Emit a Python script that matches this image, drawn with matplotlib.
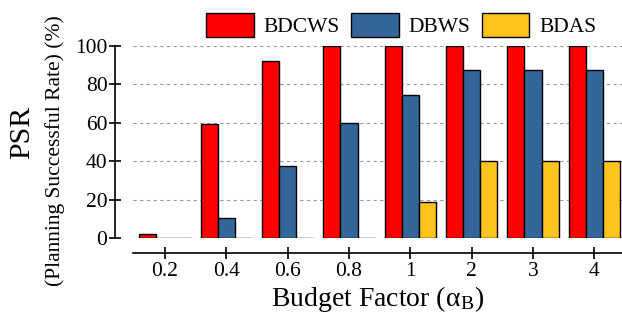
import matplotlib
matplotlib.use("Agg")
import matplotlib.pyplot as plt
import numpy as np

factors = ["0.2", "0.4", "0.6", "0.8", "1", "2", "3", "4"]
bdcws = [2, 59.2, 92.2, 100, 100, 100, 100, 100]
dbws = [0, 10.6, 37.5, 60, 74.5, 87.5, 87.5, 87.5]
bdas = [0, 0, 0, 0, 18.9, 40, 40, 40]

series = (
    ("BDCWS", bdcws, "#ff0000"),
    ("DBWS", dbws, "#346699"),
    ("BDAS", bdas, "#fcc41c"),
)

plt.rcParams["font.family"] = ["Liberation Serif", "DejaVu Serif"]
plt.rcParams["mathtext.fontset"] = "stix"

fig = plt.figure(figsize=(6.22, 3.2), dpi=100)
ax = fig.add_axes([0.214, 0.256, 0.786, 0.6])

x = np.arange(len(factors))
width = 0.28
for i, (label, values, color) in enumerate(series):
    ax.bar(x + (i - 1) * width, values, width, label=label, color=color,
           edgecolor="black", linewidth=1.0, zorder=3)

ax.set_xlim(-0.52, 7.45)
ax.set_ylim(0, 100)
ax.set_yticks(np.arange(0, 101, 20))
ax.set_xticks(x)
ax.set_xticklabels(factors)
ax.yaxis.grid(True, linestyle=(0, (3, 3)), color="#999999", linewidth=0.8, zorder=0)

for side in ("top", "right"):
    ax.spines[side].set_visible(False)
ax.spines["left"].set_position(("outward", 13))
ax.spines["bottom"].set_position(("outward", 11))
ax.spines["left"].set_bounds(0, 100)
ax.tick_params(axis="both", direction="inout", length=9, width=1.2, labelsize=15.5)
ax.tick_params(axis="y", pad=1)
ax.tick_params(axis="x", pad=2)
for side in ("left", "bottom"):
    ax.spines[side].set_linewidth(1.2)

ax.set_xlabel("Budget Factor (α$_\\mathregular{B}$)", fontsize=20, labelpad=2)
fig.text(0.036, 0.5875, "PSR", rotation=90, fontsize=21.5, ha="center", va="center")
fig.text(0.088, 0.53, "(Planning Successful Rate) (%)", rotation=90, fontsize=15.5,
         ha="center", va="center")

fig.legend(loc="upper center", bbox_to_anchor=(0.645, 0.985), ncol=3, frameon=False,
           fontsize=15.5, handlelength=2.2, handleheight=1.3, handletextpad=0.45,
           columnspacing=0.55, borderaxespad=0)

fig.savefig("out.png", dpi=100)
